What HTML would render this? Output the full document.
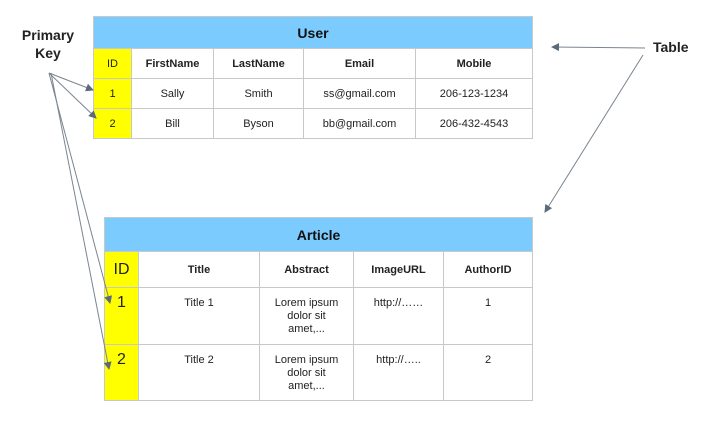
<!DOCTYPE html>
<html><head><style>
body{margin:0;width:706px;height:422px;background:#fff;font-family:"Liberation Sans",Arial,sans-serif;position:relative;overflow:hidden}
.c{position:absolute;box-sizing:border-box;border:1px solid #c8c8c8;display:flex;align-items:center;justify-content:center;text-align:center;font-size:11px;color:#222}
.t{align-items:flex-start;padding-top:9px;line-height:13px}
.h{background:#7ccbff;font-weight:bold;font-size:14px;color:#111}
.y{background:#ffff00}
.b{font-weight:bold}
</style></head><body>
<div class="c h" style="left:93px;top:16px;width:440px;height:33px">User</div>
<div class="c y" style="left:93px;top:48px;width:39px;height:31px">ID</div>
<div class="c b" style="left:131px;top:48px;width:83px;height:31px">FirstName</div>
<div class="c b" style="left:213px;top:48px;width:91px;height:31px">LastName</div>
<div class="c b" style="left:303px;top:48px;width:113px;height:31px">Email</div>
<div class="c b" style="left:415px;top:48px;width:118px;height:31px">Mobile</div>
<div class="c y" style="left:93px;top:78px;width:39px;height:31px">1</div>
<div class="c" style="left:131px;top:78px;width:83px;height:31px">Sally</div>
<div class="c" style="left:213px;top:78px;width:91px;height:31px">Smith</div>
<div class="c" style="left:303px;top:78px;width:113px;height:31px">ss@gmail.com</div>
<div class="c" style="left:415px;top:78px;width:118px;height:31px">206-123-1234</div>
<div class="c y" style="left:93px;top:108px;width:39px;height:31px">2</div>
<div class="c" style="left:131px;top:108px;width:83px;height:31px">Bill</div>
<div class="c" style="left:213px;top:108px;width:91px;height:31px">Byson</div>
<div class="c" style="left:303px;top:108px;width:113px;height:31px">bb@gmail.com</div>
<div class="c" style="left:415px;top:108px;width:118px;height:31px">206-432-4543</div>

<div class="c h" style="left:104px;top:217px;width:429px;height:35px">Article</div>
<div class="c y" style="left:104px;top:251px;width:35px;height:37px;font-size:16px">ID</div>
<div class="c b" style="left:138px;top:251px;width:122px;height:37px">Title</div>
<div class="c b" style="left:259px;top:251px;width:95px;height:37px">Abstract</div>
<div class="c b" style="left:353px;top:251px;width:91px;height:37px">ImageURL</div>
<div class="c b" style="left:443px;top:251px;width:90px;height:37px">AuthorID</div>
<div class="c y t" style="left:104px;top:287px;width:35px;height:58px;font-size:16px;padding-top:8px">1</div>
<div class="c t" style="left:138px;top:287px;width:122px;height:58px">Title 1</div>
<div class="c t" style="left:259px;top:287px;width:95px;height:58px">Lorem ipsum<br>dolor sit<br>amet,...</div>
<div class="c t" style="left:353px;top:287px;width:91px;height:58px">http://……</div>
<div class="c t" style="left:443px;top:287px;width:90px;height:58px">1</div>
<div class="c y t" style="left:104px;top:344px;width:35px;height:57px;font-size:16px;padding-top:8px">2</div>
<div class="c t" style="left:138px;top:344px;width:122px;height:57px">Title 2</div>
<div class="c t" style="left:259px;top:344px;width:95px;height:57px">Lorem ipsum<br>dolor sit<br>amet,...</div>
<div class="c t" style="left:353px;top:344px;width:91px;height:57px">http://…..</div>
<div class="c t" style="left:443px;top:344px;width:90px;height:57px">2</div>

<div style="position:absolute;left:14px;top:26px;width:68px;text-align:center;font-size:14px;font-weight:bold;color:#222;line-height:18px">Primary<br>Key</div>
<div style="position:absolute;left:653px;top:39px;font-size:14px;font-weight:bold;color:#222">Table</div>
<svg width="706" height="422" style="position:absolute;left:0;top:0">
<defs><marker id="a" markerWidth="8" markerHeight="8" refX="7" refY="4" orient="auto" markerUnits="userSpaceOnUse"><path d="M0,0L8,4L0,8z" fill="#5a6a7a"/></marker></defs>
<g stroke="#7a8590" stroke-width="1" fill="none" marker-end="url(#a)">
<line x1="49" y1="73" x2="93" y2="90"/>
<line x1="49" y1="73" x2="96" y2="118"/>
<line x1="49" y1="73" x2="110" y2="303"/>
<line x1="51" y1="73" x2="109" y2="369"/>
<line x1="645" y1="48" x2="552" y2="47"/>
<line x1="643" y1="55" x2="545" y2="212"/>
</g></svg>
</body></html>
